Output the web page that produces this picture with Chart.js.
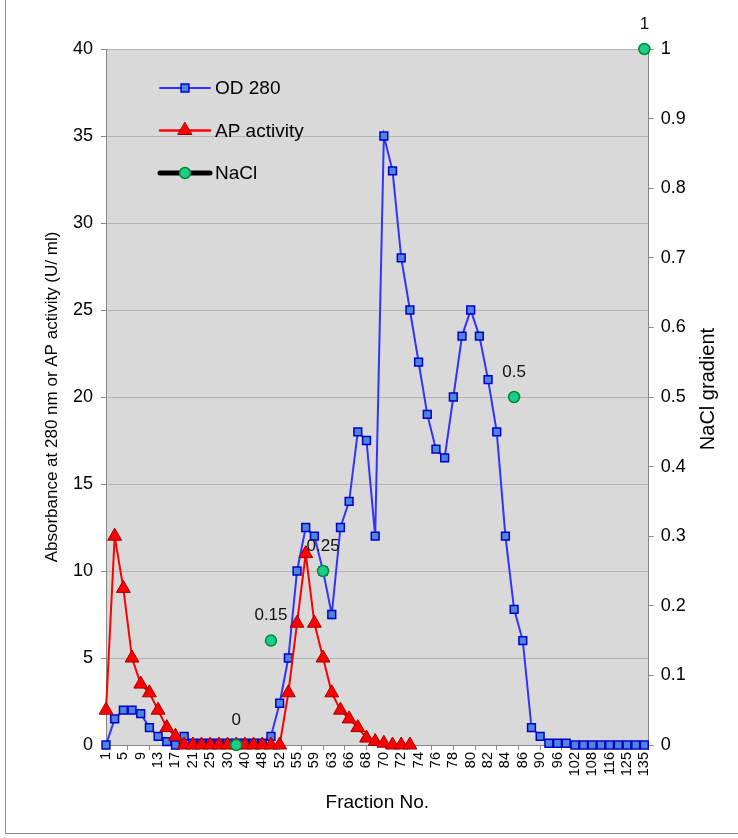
<!DOCTYPE html>
<html>
<head>
<meta charset="utf-8">
<title>Elution profile</title>
<script src="https://cdn.jsdelivr.net/npm/chart.js@4.4.1/dist/chart.umd.min.js"></script>
<style>
  html, body { margin: 0; padding: 0; background: #fff; }
  canvas { display: block; }
</style>
</head>
<body>
<canvas id="elutionChart" width="738" height="838"></canvas>
<script>
// fraction numbers (only every other one is printed on the axis)
const fractions = [1, 3, 5, 7, 9, 11, 13, 15, 17, 19, 21, 23, 25, 27, 30, 35, 40, 45, 48, 50,
  52, 54, 55, 57, 59, 61, 63, 65, 66, 67, 68, 69, 70, 71, 72, 73, 74, 75, 76, 77,
  78, 79, 80, 81, 82, 83, 84, 85, 86, 88, 90, 93, 96, 99, 102, 105, 108, 112, 116, 120,
  125, 130, 135];

const od280 = [0, 1.5, 2, 2, 1.8, 1, 0.5, 0.2, 0, 0.5, 0.1, 0.1, 0.1, 0.1, 0.1, 0.1, 0.1, 0.1, 0.1, 0.5,
  2.4, 5, 10, 12.5, 12, 10, 7.5, 12.5, 14, 18, 17.5, 12, 35, 33, 28, 25, 22, 19, 17, 16.5,
  20, 23.5, 25, 23.5, 21, 18, 12, 7.8, 6, 1, 0.5, 0.1, 0.1, 0.1, 0, 0, 0, 0, 0, 0,
  0, 0, 0];

const apActivity = [2, 12, 9, 5, 3.5, 3, 2, 1, 0.5, 0, 0, 0, 0, 0, 0, 0, 0, 0, 0, 0,
  0, 3, 7, 11, 7, 5, 3, 2, 1.5, 1, 0.4, 0.2, 0.1, 0, 0, 0, null, null, null, null,
  null, null, null, null, null, null, null, null, null, null, null, null, null, null, null, null, null, null, null, null,
  null, null, null];

const nacl = [null, null, null, null, null, null, null, null, null, null, null, null, null, null, null, 0, null, null, null, 0.15,
  null, null, null, null, null, 0.25, null, null, null, null, null, null, null, null, null, null, null, null, null, null,
  null, null, null, null, null, null, null, 0.5, null, null, null, null, null, null, null, null, null, null, null, null,
  null, null, 1];

const FONT = "'Liberation Sans', Arial, sans-serif";
Chart.defaults.font.family = FONT;
Chart.defaults.color = '#000';

const toPoints = arr => arr.map((v, i) => ({ x: i, y: v }));

function drawMarker(ctx, style, x, y, r, fill, stroke, bw) {
  ctx.beginPath();
  if (style === 'rect') {
    const s = r * Math.SQRT1_2;
    ctx.rect(x - s, y - s, 2 * s, 2 * s);
  } else if (style === 'triangle') {
    ctx.moveTo(x, y - r);
    ctx.lineTo(x + r * 0.866, y + r * 0.5);
    ctx.lineTo(x - r * 0.866, y + r * 0.5);
    ctx.closePath();
  } else {
    ctx.arc(x, y, r, 0, Math.PI * 2);
  }
  ctx.fillStyle = fill;
  ctx.fill();
  ctx.lineWidth = bw;
  ctx.strokeStyle = stroke;
  ctx.stroke();
}

const plotBackground = {
  id: 'plotBackground',
  beforeDraw(chart) {
    const { ctx, chartArea: a } = chart;
    ctx.save();
    ctx.fillStyle = '#d9d9d9';
    ctx.fillRect(a.left, a.top, a.right - a.left, a.bottom - a.top);
    ctx.restore();
  }
};

const naclLabels = {
  id: 'naclLabels',
  afterDatasetsDraw(chart) {
    const ctx = chart.ctx;
    const meta = chart.getDatasetMeta(2);
    ctx.save();
    ctx.font = '17px ' + FONT;
    ctx.fillStyle = '#111';
    ctx.textAlign = 'center';
    ctx.textBaseline = 'middle';
    meta.data.forEach((pt, i) => {
      if (nacl[i] === null) return;
      ctx.fillText(String(nacl[i]), pt.x, pt.y - 25);
    });
    ctx.restore();
  }
};

const extras = {
  id: 'extras',
  afterDraw(chart) {
    const ctx = chart.ctx;
    ctx.save();
    // legend inside the plot
    const entries = [
      { text: 'OD 280', line: '#3333ff', lw: 2, style: 'rect', r: 5.5, fill: '#4f86dc', stroke: '#0000cc', bw: 1.5 },
      { text: 'AP activity', line: '#ff0000', lw: 2.5, style: 'triangle', r: 8, fill: '#ff0000', stroke: '#a00000', bw: 1 },
      { text: 'NaCl', line: '#000000', lw: 5, style: 'circle', r: 5.5, fill: '#1ecb8c', stroke: '#008a2e', bw: 1.5 }
    ];
    entries.forEach((e, k) => {
      const y = 88 + k * 42.5;
      ctx.beginPath();
      ctx.lineCap = 'round';
      ctx.moveTo(160, y);
      ctx.lineTo(210, y);
      ctx.lineWidth = e.lw;
      ctx.strokeStyle = e.line;
      ctx.stroke();
      drawMarker(ctx, e.style, 185, y, e.r, e.fill, e.stroke, e.bw);
      ctx.font = '19px ' + FONT;
      ctx.fillStyle = '#000';
      ctx.textAlign = 'left';
      ctx.textBaseline = 'middle';
      ctx.fillText(e.text, 215, y + 1);
    });
    // right axis title
    ctx.translate(708, 389);
    ctx.rotate(-Math.PI / 2);
    ctx.font = '20px ' + FONT;
    ctx.textAlign = 'center';
    ctx.textBaseline = 'middle';
    ctx.fillText('NaCl gradient', 0, 0);
    ctx.setTransform(1, 0, 0, 1, 0, 0);
    // chart frame
    ctx.beginPath();
    ctx.moveTo(5.5, 0);
    ctx.lineTo(5.5, 833.5);
    ctx.lineTo(738, 833.5);
    ctx.lineWidth = 1;
    ctx.strokeStyle = '#8c8c8c';
    ctx.stroke();
    ctx.restore();
  }
};

new Chart(document.getElementById('elutionChart').getContext('2d'), {
  type: 'line',
  data: {
    datasets: [
      {
        label: 'OD 280',
        data: toPoints(od280),
        yAxisID: 'y',
        order: 3,
        clip: false,
        borderColor: '#3333ff',
        borderWidth: 2,
        pointStyle: 'rect',
        pointRadius: 5.5,
        pointBackgroundColor: '#4f86dc',
        pointBorderColor: '#0000cc',
        pointBorderWidth: 1.5,
        tension: 0
      },
      {
        label: 'AP activity',
        data: toPoints(apActivity),
        yAxisID: 'y',
        order: 2,
        clip: false,
        borderColor: '#ff0000',
        borderWidth: 2,
        pointStyle: 'triangle',
        pointRadius: 8,
        pointBackgroundColor: '#ff0000',
        pointBorderColor: '#a00000',
        pointBorderWidth: 1,
        tension: 0
      },
      {
        label: 'NaCl',
        data: toPoints(nacl),
        yAxisID: 'y1',
        order: 1,
        clip: false,
        showLine: false,
        borderColor: '#000000',
        pointStyle: 'circle',
        pointRadius: 5.5,
        pointBackgroundColor: '#1ecb8c',
        pointBorderColor: '#008a2e',
        pointBorderWidth: 1.5
      }
    ]
  },
  options: {
    responsive: false,
    animation: false,
    layout: { padding: { top: 49, left: 0, right: 0, bottom: 0 } },
    plugins: {
      legend: { display: false },
      tooltip: { enabled: false }
    },
    scales: {
      x: {
        type: 'linear',
        min: 0,
        max: 62.5,
        afterBuildTicks: scale => {
          const t = [];
          for (let k = 0; k <= 125; k++) t.push({ value: k / 2 });
          scale.ticks = t;
        },
        afterFit: scale => { scale.height = 93; },
        ticks: {
          autoSkip: false,
          minRotation: 90,
          maxRotation: 90,
          padding: 2,
          font: { size: 14.5 },
          callback: value => (value % 2 === 0 ? String(fractions[value]) : '')
        },
        grid: {
          drawOnChartArea: false,
          tickLength: 5,
          tickColor: c => (c.tick && Math.round(c.tick.value * 2) % 5 !== 0 ? 'rgba(0,0,0,0)' : '#888')
        },
        border: { color: '#888', width: 1 },
        title: { display: true, text: 'Fraction No.', font: { size: 19 }, padding: { top: 4, bottom: 24 } }
      },
      y: {
        position: 'left',
        min: 0,
        max: 40,
        afterFit: scale => { scale.width = 106; },
        ticks: { stepSize: 5, padding: 8, font: { size: 18 } },
        grid: { color: '#b4b4b4', tickColor: '#888', tickLength: 5 },
        border: { color: '#888', width: 1 },
        title: {
          display: true,
          text: 'Absorbance at 280 nm or AP activity (U/ ml)',
          font: { size: 17 },
          padding: { top: 42 }
        }
      },
      y1: {
        position: 'right',
        min: 0,
        max: 1,
        afterFit: scale => { scale.width = 89.3; },
        ticks: { stepSize: 0.1, padding: 7, font: { size: 18 }, callback: v => String(Math.round(v * 10) / 10) },
        grid: { drawOnChartArea: false, tickColor: '#888', tickLength: 5 },
        border: { color: '#888', width: 1 }
      }
    }
  },
  plugins: [plotBackground, naclLabels, extras]
});
</script>
</body>
</html>
